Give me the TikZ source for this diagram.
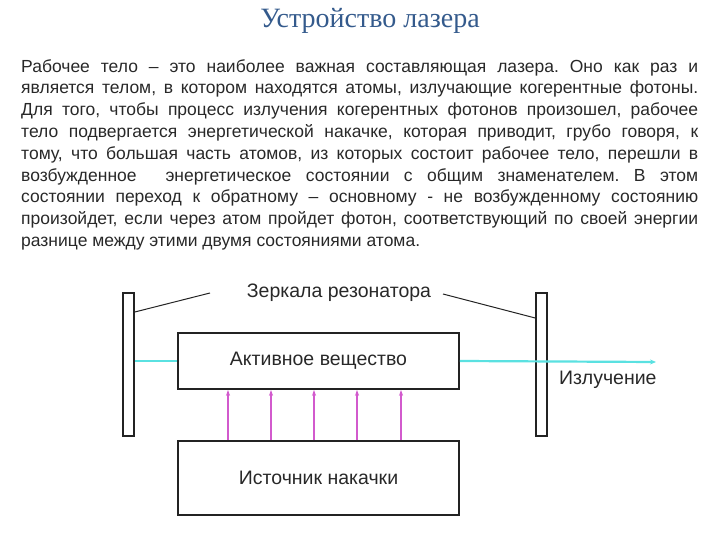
\documentclass[tikz,border=0pt]{standalone}
\usepackage{fontspec}
\setmainfont{Liberation Sans}
\newfontfamily\titlefont{Liberation Serif}
\usetikzlibrary{arrows.meta}
\definecolor{titleblue}{RGB}{52,90,140}
\definecolor{bodygray}{RGB}{40,40,40}
\definecolor{beamcyan}{RGB}{90,225,225}
\definecolor{pumpmag}{RGB}{210,90,205}
\definecolor{linegray}{RGB}{35,35,35}
\tikzset{
  mirror/.style={draw=linegray,line width=1.6pt},
  blockbox/.style={draw=linegray,line width=1.6pt,minimum width=281pt,inner sep=0pt,font=\fontsize{19.5}{23}\selectfont,text=bodygray},
  beam/.style={draw=beamcyan,line width=2.2pt},
  pump/.style={draw=pumpmag,line width=1.1pt,-{Stealth[length=6pt,width=4pt]}},
  leader/.style={draw=linegray,line width=1pt},
  lbl/.style={font=\fontsize{19.5}{23}\selectfont,text=bodygray,inner sep=0pt}
}
\begin{document}
\begin{tikzpicture}[x=1pt,y=-1pt]
\useasboundingbox (0,0) rectangle (720,540);
% title
\node[font=\titlefont\fontsize{28}{32}\selectfont,text=titleblue,inner sep=0pt] (title) at (370,21) {Устройство лазера};
% body
\node[anchor=north west,inner sep=0pt,text=bodygray] (body) at (21,59) {\parbox{677pt}{\frenchspacing\fontsize{17.5}{21.8}\selectfont
Рабочее тело – это наиболее важная составляющая лазера. Оно как раз и\linebreak
является телом, в котором находятся атомы, излучающие когерентные фотоны.\linebreak
Для того, чтобы процесс излучения когерентных фотонов произошел, рабочее\linebreak
тело подвергается энергетической накачке, которая приводит, грубо говоря, к\linebreak
тому, что большая часть атомов, из которых состоит рабочее тело, перешли в\linebreak
возбужденное \ энергетическое состоянии с общим знаменателем. В этом\linebreak
состоянии переход к обратному – основному - не возбужденному состоянию\linebreak
произойдет, если через атом пройдет фотон, соответствующий по своей энергии\linebreak
разнице между этими двумя состояниями атома.\par}};
% mirrors
\node[mirror,minimum width=11pt,minimum height=143pt,inner sep=0pt] (mL) at (128.5,364.5) {};
\node[mirror,minimum width=11pt,minimum height=143pt,inner sep=0pt] (mR) at (541.5,364.5) {};
% active medium and pump source
\node[blockbox,minimum height=56pt] (active) at (318.5,361) {Активное вещество};
\node[blockbox,minimum height=74pt] (source) at (318.5,478) {Источник накачки};
% beam
\coordinate (beamEnd) at (656,362);
\draw[beam] (mL.east |- active.west) -- (active.west);
\draw[beam,-{Stealth[length=6pt,width=5pt]}] (active.east) -- (beamEnd);
\node[lbl,anchor=west] (rad) at (559,380) {Излучение};
% label and leaders
\node[lbl] (mirrlbl) at (339,293) {Зеркала резонатора};
\coordinate (lL) at (210,293);
\coordinate (lR) at (443,294);
\draw[leader] (lL) -- (mL.east |- 0,312);
\draw[leader] (lR) -- (mR.west |- 0,318);
% pump arrows
\foreach \x in {228,271,314,357,401}{
  \draw[pump] (\x,0 |- source.north) -- (\x,0 |- active.south);
}
\end{tikzpicture}
\end{document}
